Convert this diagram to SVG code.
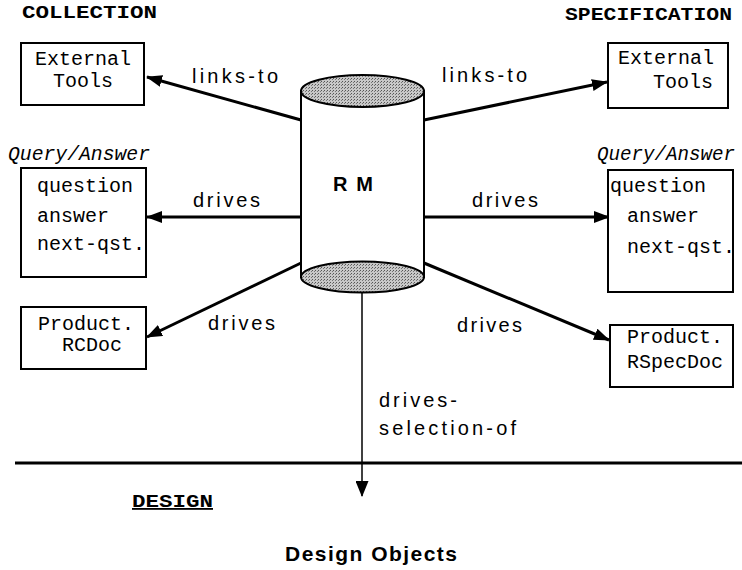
<svg xmlns="http://www.w3.org/2000/svg" width="742" height="570" viewBox="0 0 742 570">
<defs>
<style>
.box{fill:#fff;stroke:#000;stroke-width:2}
.mono{font-family:"Liberation Mono","Courier New",monospace;font-size:20px;fill:#000}
.hdr{font-family:"Liberation Mono","Courier New",monospace;font-size:18px;font-weight:bold;fill:#000}
.ital{font-family:"Liberation Mono","Courier New",monospace;font-size:20px;font-style:italic;fill:#000}
.lbl{font-family:"Liberation Sans",Arial,sans-serif;font-size:20px;fill:#000}
.conn{stroke:#000;stroke-width:3;fill:none}
.thin{stroke:#000;stroke-width:1.5;fill:none}
.cyl{stroke:#000;stroke-width:2}
</style>
<pattern id="stip" width="3" height="3" patternUnits="userSpaceOnUse">
<rect width="3" height="3" fill="#c8c8c8"/>
<rect width="1" height="1" fill="#555"/>
<rect x="2" y="1" width="1" height="1" fill="#777"/>
</pattern>
<marker id="ah" viewBox="0 0 16 12" markerWidth="16" markerHeight="12" refX="15" refY="6" orient="auto" markerUnits="userSpaceOnUse">
<path d="M0,0 L16,6 L0,12 z" fill="#000"/>
</marker>
<marker id="ahs" viewBox="0 0 16 13" markerWidth="16" markerHeight="13" refX="15" refY="6.5" orient="auto" markerUnits="userSpaceOnUse">
<path d="M0,0 L16,6.5 L0,13 z" fill="#000"/>
</marker>
</defs>
<rect width="742" height="570" fill="#fff"/>

<g id="headers">
<text class="hdr" x="22" y="18" textLength="135" lengthAdjust="spacingAndGlyphs">COLLECTION</text>
<text class="hdr" x="565" y="20" textLength="167" lengthAdjust="spacingAndGlyphs">SPECIFICATION</text>
<text class="hdr" x="132" y="507" textLength="81" lengthAdjust="spacingAndGlyphs" text-decoration="underline">DESIGN</text>
</g>

<g id="divider">
<line x1="15" y1="463" x2="742" y2="463" stroke="#000" stroke-width="3"/>
</g>

<g id="connectors">
<line class="conn" x1="301" y1="120" x2="147" y2="77" marker-end="url(#ah)"/>
<line class="conn" x1="424" y1="120" x2="607" y2="82" marker-end="url(#ah)"/>
<line class="conn" x1="301" y1="217" x2="147" y2="217" marker-end="url(#ah)"/>
<line class="conn" x1="424" y1="217" x2="609" y2="217" marker-end="url(#ah)"/>
<line class="conn" x1="301" y1="263" x2="147" y2="337" marker-end="url(#ah)"/>
<line class="conn" x1="424" y1="263" x2="609" y2="340" marker-end="url(#ah)"/>
<line class="thin" x1="362" y1="293" x2="362" y2="496" marker-end="url(#ahs)"/>
<text class="lbl" x="192" y="83" textLength="86" lengthAdjust="spacing">links-to</text>
<text class="lbl" x="442" y="82" textLength="85" lengthAdjust="spacing">links-to</text>
<text class="lbl" x="193" y="207" textLength="67" lengthAdjust="spacing">drives</text>
<text class="lbl" x="472" y="207" textLength="66" lengthAdjust="spacing">drives</text>
<text class="lbl" x="208" y="330" textLength="67" lengthAdjust="spacing">drives</text>
<text class="lbl" x="457" y="332" textLength="65" lengthAdjust="spacing">drives</text>
<text class="lbl" x="379" y="407" textLength="78" lengthAdjust="spacing">drives-</text>
<text class="lbl" x="379" y="435" textLength="137" lengthAdjust="spacing">selection-of</text>
</g>

<g id="rm">
<path class="cyl" d="M301,91 L301,277 L424,277 L424,91 Z" fill="#fff" stroke="none"/>
<line class="cyl" x1="301" y1="91" x2="301" y2="277"/>
<line class="cyl" x1="424" y1="91" x2="424" y2="277"/>
<ellipse class="cyl" cx="362.5" cy="91" rx="61.5" ry="16" fill="url(#stip)"/>
<ellipse class="cyl" cx="362.5" cy="277" rx="61.5" ry="15.5" fill="url(#stip)"/>
<text x="333" y="191" font-family="Liberation Sans,Arial,sans-serif" font-size="20" font-weight="bold" textLength="40" lengthAdjust="spacing">R M</text>
</g>

<g id="ext-tools-left">
<rect class="box" x="21" y="43" width="123" height="62"/>
<text class="mono" x="35" y="65">External</text>
<text class="mono" x="53" y="87">Tools</text>
</g>

<g id="ext-tools-right">
<rect class="box" x="608" y="43" width="120" height="65"/>
<text class="mono" x="618" y="64">External</text>
<text class="mono" x="653" y="88">Tools</text>
</g>

<g id="qa-left">
<text class="ital" x="8" y="160" textLength="142" lengthAdjust="spacingAndGlyphs">Query/Answer</text>
<rect class="box" x="21" y="168" width="125" height="109"/>
<text class="mono" x="37" y="192">question</text>
<text class="mono" x="37" y="222">answer</text>
<text class="mono" x="37" y="250">next-qst.</text>
</g>

<g id="qa-right">
<text class="ital" x="597" y="160" textLength="138" lengthAdjust="spacingAndGlyphs">Query/Answer</text>
<rect class="box" x="608" y="170" width="125" height="122"/>
<text class="mono" x="610" y="192">question</text>
<text class="mono" x="627" y="222">answer</text>
<text class="mono" x="627" y="253">next-qst.</text>
</g>

<g id="product-rcdoc">
<rect class="box" x="21" y="307" width="125" height="62"/>
<text class="mono" x="38" y="330">Product.</text>
<text class="mono" x="62" y="351">RCDoc</text>
</g>

<g id="product-rspecdoc">
<rect class="box" x="610" y="325" width="123" height="62"/>
<text class="mono" x="627" y="343">Product.</text>
<text class="mono" x="627" y="368">RSpecDoc</text>
</g>

<g id="design-objects">
<text x="285" y="561" font-family="Liberation Sans,Arial,sans-serif" font-size="21" font-weight="bold" textLength="172" lengthAdjust="spacing">Design Objects</text>
</g>
</svg>
